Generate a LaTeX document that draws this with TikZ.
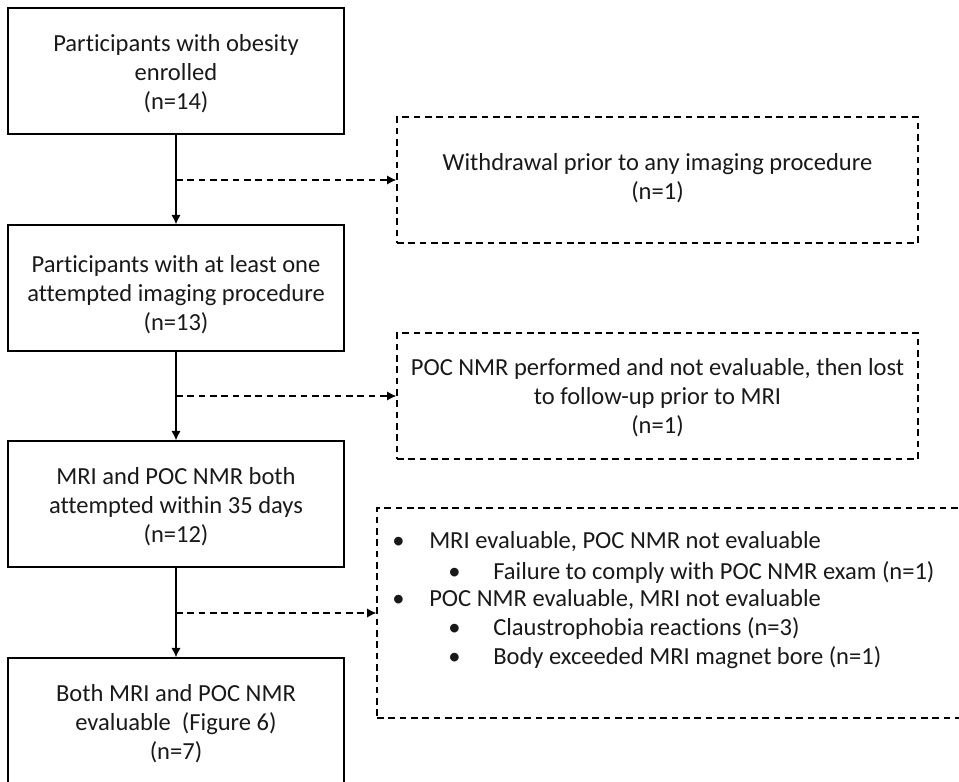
\documentclass[tikz,border=0pt]{standalone}
\usepackage{fontspec}
\setmainfont{Carlito}[Ligatures={NoCommon}]
\usetikzlibrary{arrows.meta}
\tikzset{
  solidbox/.style={draw=black, line width=1.1pt, minimum width=252pt, minimum height=94.5pt, inner sep=0pt},
  dashbox/.style={draw=black, line width=1pt, dash pattern=on 5pt off 3.5pt, inner sep=0pt},
  txt/.style={align=center, inner sep=0pt, text=black!90},
  listline/.style={anchor=base west, inner sep=0pt, text=black!90},
  mainarrow/.style={draw=black, line width=1pt, -{Latex[length=7pt,width=7pt]}},
  sidearrow/.style={draw=black, line width=1pt, dash pattern=on 5pt off 3.5pt, -{Latex[length=7pt,width=7pt]}},
}
\begin{document}
\begin{tikzpicture}[x=0.75pt, y=-0.75pt, font=\fontsize{18.4pt}{21.75pt}\selectfont]
\useasboundingbox (0,0) rectangle (959,781);
\clip (0,0) rectangle (959,781);
% main boxes
\node[solidbox] (b1) at (176,71) {};
\node[solidbox] (b2) at (176,288) {};
\node[solidbox] (b3) at (176,504) {};
\node[solidbox] (b4) at (176,721) {};
\node[txt] (t1) at (176,74) {Participants with obesity\\enrolled\\(n=14)};
\node[txt] (t2) at (176,295) {Participants with at least one\\attempted imaging procedure\\(n=13)};
\node[txt] (t3) at (176,507) {MRI and POC NMR both\\attempted within 35 days\\(n=12)};
\node[txt] (t4) at (176,724) {Both MRI and POC NMR\\evaluable\ \ (Figure 6)\\(n=7)};
% side boxes
\node[dashbox, minimum width=390.75pt, minimum height=94.5pt] (d1) at (657.5,180) {};
\node[dashbox, minimum width=390.75pt, minimum height=94.5pt] (d2) at (657.5,396) {};
\node[dashbox, minimum width=474.75pt, minimum height=157.5pt] (d3) at (693.5,613) {};
\node[txt] (u1) at (657.5,178) {Withdrawal prior to any imaging procedure\\(n=1)};
\node[txt] (u2) at (657.5,398) {POC NMR performed and not evaluable, then lost\\to follow-up prior to MRI\\(n=1)};
% list in third side box
\node[listline] (l1) at (392,548) {\makebox[27.75pt][l]{\textbullet}MRI evaluable, POC NMR not evaluable};
\node[listline] (l2) at (448,579) {\makebox[33.75pt][l]{\textbullet}Failure to comply with POC NMR exam (n=1)};
\node[listline] (l3) at (392,606) {\makebox[27.75pt][l]{\textbullet}POC NMR evaluable, MRI not evaluable};
\node[listline] (l4) at (448,635) {\makebox[33.75pt][l]{\textbullet}Claustrophobia reactions (n=3)};
\node[listline] (l5) at (448,664) {\makebox[33.75pt][l]{\textbullet}Body exceeded MRI magnet bore (n=1)};
% connectors
\draw[mainarrow] (b1.south) -- (b2.north);
\draw[mainarrow] (b2.south) -- (b3.north);
\draw[mainarrow] (b3.south) -- (b4.north);
\coordinate (j1) at (b1.south |- d1.west);
\coordinate (j2) at (b2.south |- d2.west);
\coordinate (j3) at (b3.south |- d3.west);
\draw[sidearrow] (j1) -- (d1.west);
\draw[sidearrow] (j2) -- (d2.west);
\draw[sidearrow] (j3) -- (d3.west);
\end{tikzpicture}
\end{document}
